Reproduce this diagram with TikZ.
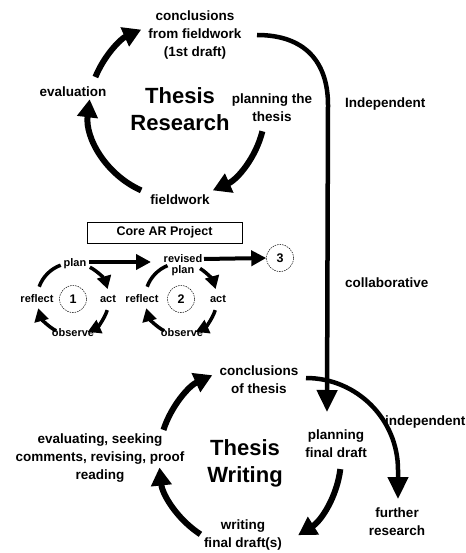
\documentclass[tikz,border=0pt]{standalone}
\usepackage{fontspec}
\setmainfont{Liberation Sans}
\usetikzlibrary{arrows.meta,calc}

\begin{document}
\begin{tikzpicture}[x=1pt,y=-1pt,
  lbl/.style={font=\bfseries\fontsize{13.5}{18}\selectfont, align=center, inner sep=0pt},
  side/.style={font=\bfseries\fontsize{13.5}{18}\selectfont, anchor=west, inner sep=0pt},
  title/.style={font=\bfseries\fontsize{22}{27}\selectfont, align=center, inner sep=0pt},
  small/.style={font=\bfseries\fontsize{11}{11}\selectfont, align=center, inner sep=0pt},
  numc/.style={draw, circle, dash pattern=on 1.5pt off 1pt, line width=0.5pt,
    minimum size=27pt, inner sep=0pt, font=\bfseries\fontsize{12.5}{12.5}\selectfont},
  cyc/.style={line width=6pt, -{Triangle[length=18pt,width=20pt]}},
  conn/.style={line width=4.5pt, -{Triangle[length=22pt,width=20pt]}},
  harr/.style={line width=4pt, -{Triangle[length=15pt,width=15pt]}},
  sarr/.style={line width=3.5pt, -{Triangle[length=13pt,width=14pt]}},
  sline/.style={line width=3.5pt},
]
\useasboundingbox (0,0) rectangle (465,553);

% ---------- Thesis Research cycle ----------
\node[lbl] (concl1) at (195,35) {conclusions\\from fieldwork\\(1st draft)};
\node[lbl] (eval) at (73,92) {evaluation};
\node[lbl] (plan1) at (272,108) {planning the\\thesis};
\node[lbl] (field) at (180,200) {fieldwork};
\node[title] (research) at (180,109) {Thesis\\Research};

\coordinate (RC) at (177,110);
\draw[cyc] ($(RC)+(-158:88)$) arc[start angle=-158, end angle=-114, radius=88];
\draw[cyc] ($(RC)+(14:88)$) arc[start angle=14, end angle=66, radius=88];
\draw[cyc] ($(RC)+(114:88)$) arc[start angle=114, end angle=187, radius=88];

% ---------- side labels ----------
\node[side] (indep1) at (345,104) {Independent};
\node[side] (collab) at (345,283) {collaborative};

% ---------- Core AR project ----------
\node[draw, line width=0.7pt, minimum width=155pt, minimum height=21pt, inner sep=0pt,
  font=\bfseries\fontsize{12.5}{12.5}\selectfont] (core) at (164.5,232.5) {Core AR Project};

% first action research cycle
\coordinate (C1) at (73,299);
\node[numc] (one) at (C1) {1};
\node[small] (p1) at (75,264) {plan};
\node[small] (r1) at (37,299) {reflect};
\node[small] (a1) at (108,299) {act};
\node[small] (o1) at (73,333) {observe};
\draw[sarr] ($(C1)+(-62:36)$) arc[start angle=-62, end angle=-16, radius=36];
\draw[sarr] ($(C1)+(18:36)$) arc[start angle=18, end angle=66, radius=36];
\draw[sarr] ($(C1)+(118:36)$) arc[start angle=118, end angle=165, radius=36];
\draw[sline] ($(C1)+(200:36)$) arc[start angle=200, end angle=250, radius=36];

% second action research cycle
\coordinate (C2) at (181,299);
\node[numc] (two) at (C2) {2};
\node[small] (p2) at (183,265) {revised\\plan};
\node[small] (r2) at (142,299) {reflect};
\node[small] (a2) at (218,299) {act};
\node[small] (o2) at (182,333) {observe};
\draw[sarr] ($(C2)+(-58:36)$) arc[start angle=-58, end angle=-16, radius=36];
\draw[sarr] ($(C2)+(18:36)$) arc[start angle=18, end angle=66, radius=36];
\draw[sarr] ($(C2)+(118:36)$) arc[start angle=118, end angle=165, radius=36];
\draw[sline] ($(C2)+(200:36)$) arc[start angle=200, end angle=248, radius=36];

% third cycle
\node[numc] (three) at (280,258) {3};

\coordinate (h1s) at (89,262);
\coordinate (h1e) at (151,262);
\coordinate (h2s) at (204,259);
\coordinate (h2e) at (three.west);
\draw[harr] (h1s) -- (h1e);
\draw[harr] (h2s) -- (h2e);

% ---------- link from research to writing ----------
\coordinate (lk0) at (257,35);
\coordinate (lk1) at (327,412);
\draw[conn] (lk0) .. controls (305,35) and (328,62) .. (328,105) -- (lk1);

% ---------- Thesis Writing cycle ----------
\node[lbl] (concl2) at (259,380) {conclusions\\of thesis};
\node[lbl] (plan2) at (336,444) {planning\\final draft};
\node[lbl] (write) at (243,535) {writing\\final draft(s)};
\node[lbl] (evalw) at (100,458) {evaluating, seeking\\comments, revising, proof\\reading};
\node[title] (writing) at (245,463) {Thesis\\Writing};
\node[lbl] (further) at (397,522) {further\\research};
\node[side] (indep2) at (385,422) {independent};

\coordinate (BC) at (250,458);
\draw[cyc] ($(BC)+(-162:91)$) arc[start angle=-162, end angle=-114.5, radius=91];
\draw[cyc] ($(BC)+(7:91)$) arc[start angle=7, end angle=58, radius=91];
\draw[cyc] ($(BC)+(123:91)$) arc[start angle=123, end angle=174, radius=91];

\coordinate (i0) at (306,378);
\coordinate (i1) at (398,499);
\draw[conn] (i0) arc[start angle=-90, end angle=0, radius=92] -- (i1);
\end{tikzpicture}
\end{document}
